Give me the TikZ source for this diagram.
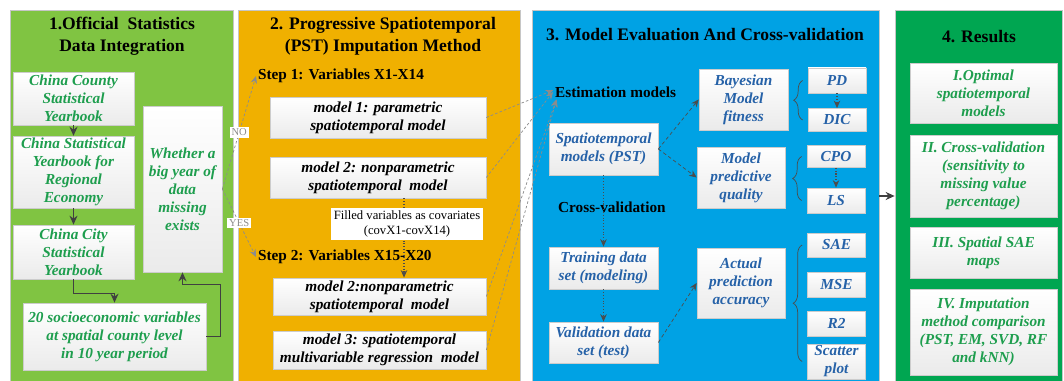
\documentclass[tikz,border=0pt]{standalone}
\usepackage{fontspec}
\setmainfont{Liberation Serif}
\usepackage{xcolor}
\usepackage{tikz}
\usetikzlibrary{arrows.meta, positioning, decorations.pathreplacing}
\definecolor{panelA}{RGB}{128,196,66}
\definecolor{panelB}{RGB}{240,176,0}
\definecolor{panelC}{RGB}{0,162,228}
\definecolor{panelD}{RGB}{0,166,81}
\definecolor{textgreen}{RGB}{30,158,78}
\definecolor{textblue}{RGB}{38,98,168}
\tikzset{
  panel/.style={draw=gray!45, minimum height=7.44cm, inner sep=0pt},
  paneltitle/.style={font=\fontsize{10}{12.5}\selectfont\bfseries, align=center},
  sublabel/.style={font=\fontsize{8.7}{10.5}\selectfont\bfseries, anchor=west, inner sep=1pt},
  whitebox/.style={draw=gray!40, top color=white, bottom color=gray!16, align=center,
                   inner sep=1pt, font=\fontsize{8.7}{10.3}\selectfont\bfseries\itshape},
  srcbox/.style={whitebox, text=textgreen},
  modelbox/.style={whitebox, text=black},
  evalbox/.style={whitebox, text=textblue},
  metricbox/.style={evalbox, minimum width=1.16cm},
  resbox/.style={whitebox, text=textgreen, minimum width=2.94cm},
  notelabel/.style={fill=white, align=center, inner sep=1.5pt, font=\fontsize{7.2}{8.6}\selectfont},
  yesno/.style={fill=white, inner sep=1pt, font=\fontsize{6}{7}\selectfont}
}

\begin{document}
\begin{tikzpicture}[
  x=0.02cm, y=-0.02cm,
  solidarrow/.style={-{Stealth[length=1.8mm, width=1.6mm]}, thick, black!75},
  dasharrow/.style={-{Stealth[length=1.5mm, width=1.3mm]}, black!70, dash pattern=on 2pt off 1.5pt},
  dotarrow/.style={-{Stealth[length=1.5mm, width=1.3mm]}, black!70, semithick, densely dotted},
  faintarrow/.style={-{Stealth[length=1.5mm, width=1.3mm]}, black!45, dash pattern=on 1.5pt off 1.2pt},
  bracket/.style={black!70, decorate, decoration={brace, amplitude=0.18cm}},
]
\useasboundingbox (0,0) rectangle (1064,381);
\clip (0,0) rectangle (1064,381);
\fill[white] (0,0) rectangle (1064,381);

% Panels
\node[panel, fill=panelA, minimum width=4.46cm] (p1) at (121.5,196) {};
\node[panel, fill=panelB, minimum width=5.64cm] (p2) at (379,196) {};
\node[panel, fill=panelC, minimum width=6.94cm] (p3) at (705.5,196) {};
\node[panel, fill=panelD, minimum width=3.34cm] (p4) at (978.5,196) {};

\node[paneltitle] (t1) at (122,36) {1.Official \ Statistics\\Data Integration};
\node[paneltitle] (t2) at (383,36) {2. Progressive Spatiotemporal\\(PST) Imputation Method};
\node[paneltitle] (t3) at (705,35) {3. Model Evaluation And Cross-validation};
\node[paneltitle] (t4) at (979,37) {4. Results};

% 1. data sources
\node[srcbox, minimum width=2.42cm, minimum height=1.06cm] (county) at (73.5,98.5) {China County\\Statistical\\Yearbook};
\node[srcbox, minimum width=2.42cm, minimum height=1.4cm] (regional) at (73.5,172) {China Statistical\\Yearbook for\\Regional\\Economy};
\node[srcbox, minimum width=2.42cm, minimum height=1.08cm] (city) at (73.5,252) {China City\\Statistical\\Yearbook};
\node[srcbox, minimum width=1.58cm, minimum height=3.32cm] (missing) at (182.5,189) {Whether a\\big year of\\data\\missing\\exists};
\node[srcbox, minimum width=3.66cm, minimum height=1.34cm] (socio) at (114.5,336.5) {20 socioeconomic variables\\at spatial county level\\in 10 year period};

\draw[solidarrow] (county) -- (regional);
\draw[solidarrow] (regional) -- (city);
\draw[solidarrow] (city.south) -- ++(0,14) -| (socio.north);
\draw[solidarrow] (socio.east) -- ++(14,0) -- ++(0,-52) -| (missing.south);

% 2. imputation steps
\node[sublabel] (step1) at (256,76) {Step 1: Variables X1-X14};
\node[modelbox, minimum width=4.32cm, minimum height=0.82cm] (m1) at (378,117.5) {model 1: parametric\\spatiotemporal model};
\node[modelbox, minimum width=4.32cm, minimum height=0.82cm] (m2) at (378,177.5) {model 2: nonparametric\\spatiotemporal \ model};
\node[sublabel] (step2) at (256,257) {Step 2: Variables X15-X20};
\node[modelbox, minimum width=4.26cm, minimum height=0.74cm] (m2b) at (379.5,296.5) {model 2:nonparametric\\spatiotemporal \ model};
\node[modelbox, minimum width=4.26cm, minimum height=0.76cm] (m3) at (379.5,350) {model 3: spatiotemporal\\multivariable regression \ model};

\draw[dotarrow] ([xshift=0.52cm]m2.south) -- ([xshift=0.52cm]m2.south |- m2b.north);
\node[notelabel, minimum width=2.96cm, minimum height=0.64cm] (filled) at (407,224) {Filled variables as covariates\\(covX1-covX14)};

\draw[faintarrow] (missing.east) -- node[yesno] {NO} (step1.west);
\draw[faintarrow] (missing.east) -- node[yesno] {YES} (step2.west);

% 3. evaluation
\node[sublabel] (est) at (553,92) {Estimation models};
\node[evalbox, minimum width=2.18cm, minimum height=1.04cm] (pst) at (603.5,149) {Spatiotemporal\\models (PST)};
\node[evalbox, minimum width=1.78cm, minimum height=1.22cm] (bayes) at (743.5,99.5) {Bayesian\\Model\\fitness};
\node[metricbox, minimum height=0.5cm] (pd) at (837,80.5) {PD};
\node[metricbox, minimum height=0.46cm] (dic) at (837,120) {DIC};
\node[evalbox, minimum width=1.76cm, minimum height=1.22cm] (predq) at (741,177.5) {Model\\predictive\\quality};
\node[metricbox, minimum height=0.44cm] (cpo) at (836,156.5) {CPO};
\node[metricbox, minimum height=0.5cm] (ls) at (836,200.5) {LS};
\node[sublabel] (cv) at (556,207) {Cross-validation};
\node[evalbox, minimum width=2.18cm, minimum height=0.84cm] (train) at (603.5,268) {Training data\\set (modeling)};
\node[evalbox, minimum width=2.18cm, minimum height=0.82cm] (valid) at (603.5,342.5) {Validation data\\set (test)};
\node[evalbox, minimum width=1.76cm, minimum height=1.4cm] (acc) at (741,283) {Actual\\prediction\\accuracy};
\node[metricbox, minimum height=0.48cm] (sae) at (836.5,245) {SAE};
\node[metricbox, minimum height=0.5cm] (mse) at (836.5,284.5) {MSE};
\node[metricbox, minimum height=0.5cm] (rsq) at (836.5,323.5) {R2};
\node[metricbox, minimum height=0.62cm] (scatter) at (836.5,361.5) {Scatter\\plot};

\draw[faintarrow] (m1.east) -- ([yshift=1pt]est.west);
\draw[faintarrow] (m2.east) -- (est.west);
\draw[faintarrow] (m2b.east) -- ([xshift=2pt]est.south west);
\draw[faintarrow] (m3.east) -- ([xshift=2pt]est.south west);

\draw[dasharrow] (pst.east) -- (bayes.west);
\draw[dasharrow] (pst.east) -- (predq.west);
\draw[dasharrow] (valid.east) -- (acc.west);
\draw[dotarrow] (pst) -- (train);
\draw[dotarrow] (train) -- (valid);
\draw[dotarrow] (pd) -- (dic);
\draw[dotarrow] (cpo) -- (ls);

\draw[bracket] ([xshift=-0.1cm]dic.west) -- ([xshift=-0.1cm]pd.west);
\draw[bracket] ([xshift=-0.1cm]ls.west) -- ([xshift=-0.1cm]cpo.west);
\draw[bracket] ([xshift=-0.1cm]scatter.west) -- ([xshift=-0.1cm]sae.west);

\draw[solidarrow] (p3.east) -- (p4.west);

% 4. results
\node[resbox, minimum height=1.2cm] (res1) at (983.5,93) {I.Optimal\\spatiotemporal\\models};
\node[resbox, minimum height=1.64cm] (res2) at (983.5,176) {II. Cross-validation\\(sensitivity to\\missing value\\percentage)};
\node[resbox, minimum height=1.02cm] (res3) at (983.5,252.5) {III. Spatial SAE\\maps};
\node[resbox, minimum height=1.72cm] (res4) at (983.5,332) {IV. Imputation\\method comparison\\(PST, EM, SVD, RF\\and kNN)};

\end{tikzpicture}
\end{document}
